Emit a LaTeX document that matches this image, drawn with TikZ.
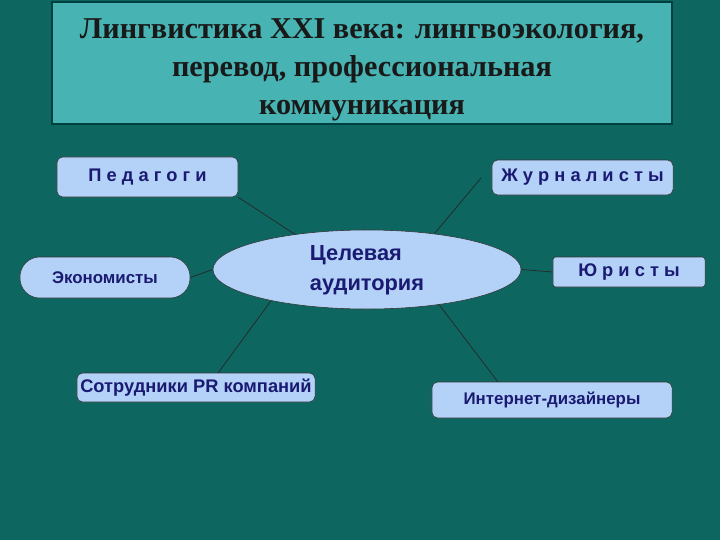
\documentclass[tikz,border=0pt]{standalone}
\usepackage{fontspec}
\setmainfont{Liberation Serif}
\setsansfont{Liberation Sans}
\usetikzlibrary{shapes.geometric}
\definecolor{bgteal}{HTML}{0E6660}
\definecolor{titleteal}{HTML}{47B3B3}
\definecolor{boxblue}{HTML}{B4D2F8}
\definecolor{navy}{HTML}{1A1A72}

\begin{document}
\begin{tikzpicture}[x=0.025cm,y=-0.025cm,
        box/.style={draw=black!80, fill=boxblue, rounded corners=4pt, inner sep=0pt,
            text=navy, font=\sffamily\bfseries},
        link/.style={draw=black!85, line width=0.5pt}]
        \fill[bgteal] (0,0) rectangle (720,540);
        \node[draw=black!50!teal, line width=1pt, fill=titleteal, minimum width=15.5cm,
            minimum height=3.05cm, inner sep=0pt] (title) at (362,63) {};
        \node[align=center, font=\bfseries\fontsize{21.5}{27}\selectfont, text=black!90]
            (titletext) at (362,69.5)
            {Лингвистика XXI века: лингвоэкология,\\перевод, профессиональная\\коммуникация};
        \node[draw=black!80, fill=boxblue, ellipse, minimum width=7.7cm, minimum height=1.975cm,
            inner sep=0pt] (aud) at (367,269.5) {};
        \node[text=navy, font=\sffamily\bfseries\fontsize{15.5}{21}\selectfont, align=left]
            (audtext) at (367,270) {Целевая\\аудитория};
        \node[box, minimum width=4.525cm, minimum height=1cm, font=\sffamily\bfseries\fontsize{13}{15}\selectfont]
            (ped) at (147.5,177) {П е д а г о г и};
        \node[box, minimum width=4.525cm, minimum height=0.875cm, font=\sffamily\bfseries\fontsize{13}{15}\selectfont]
            (jour) at (582.5,177.5) {Ж у р н а л и с т ы};
        \node[box, rounded corners=14pt, minimum width=4.25cm, minimum height=1.025cm,
            font=\sffamily\bfseries\fontsize{12}{14}\selectfont]
            (econ) at (105,277.5) {Экономисты};
        \node[box, rounded corners=2pt, minimum width=3.8cm, minimum height=0.75cm,
            font=\sffamily\bfseries\fontsize{13}{15}\selectfont]
            (law) at (629,272) {Ю р и с т ы};
        \node[box, minimum width=5.95cm, minimum height=0.725cm, font=\sffamily\bfseries\fontsize{13}{15}\selectfont]
            (pr) at (196,387.5) {Сотрудники PR компаний};
        \node[box, minimum width=6cm, minimum height=0.9cm, font=\sffamily\bfseries\fontsize{12}{14}\selectfont]
            (web) at (552,400) {Интернет-дизайнеры};
        \coordinate (jourEnd) at (481,178);
        \coordinate (prEnd) at (218,373);
        \coordinate (webEnd) at (498,382);
        \draw[link] (ped.south east) -- (aud.154);
        \draw[link] (aud.28) -- (jourEnd);
        \draw[link] (econ.east) -- (aud.west);
        \draw[link] (aud.east) -- (law.west);
        \draw[link] (aud.198) -- (prEnd);
        \draw[link] (aud.334) -- (webEnd);
    \end{tikzpicture}
\end{document}
